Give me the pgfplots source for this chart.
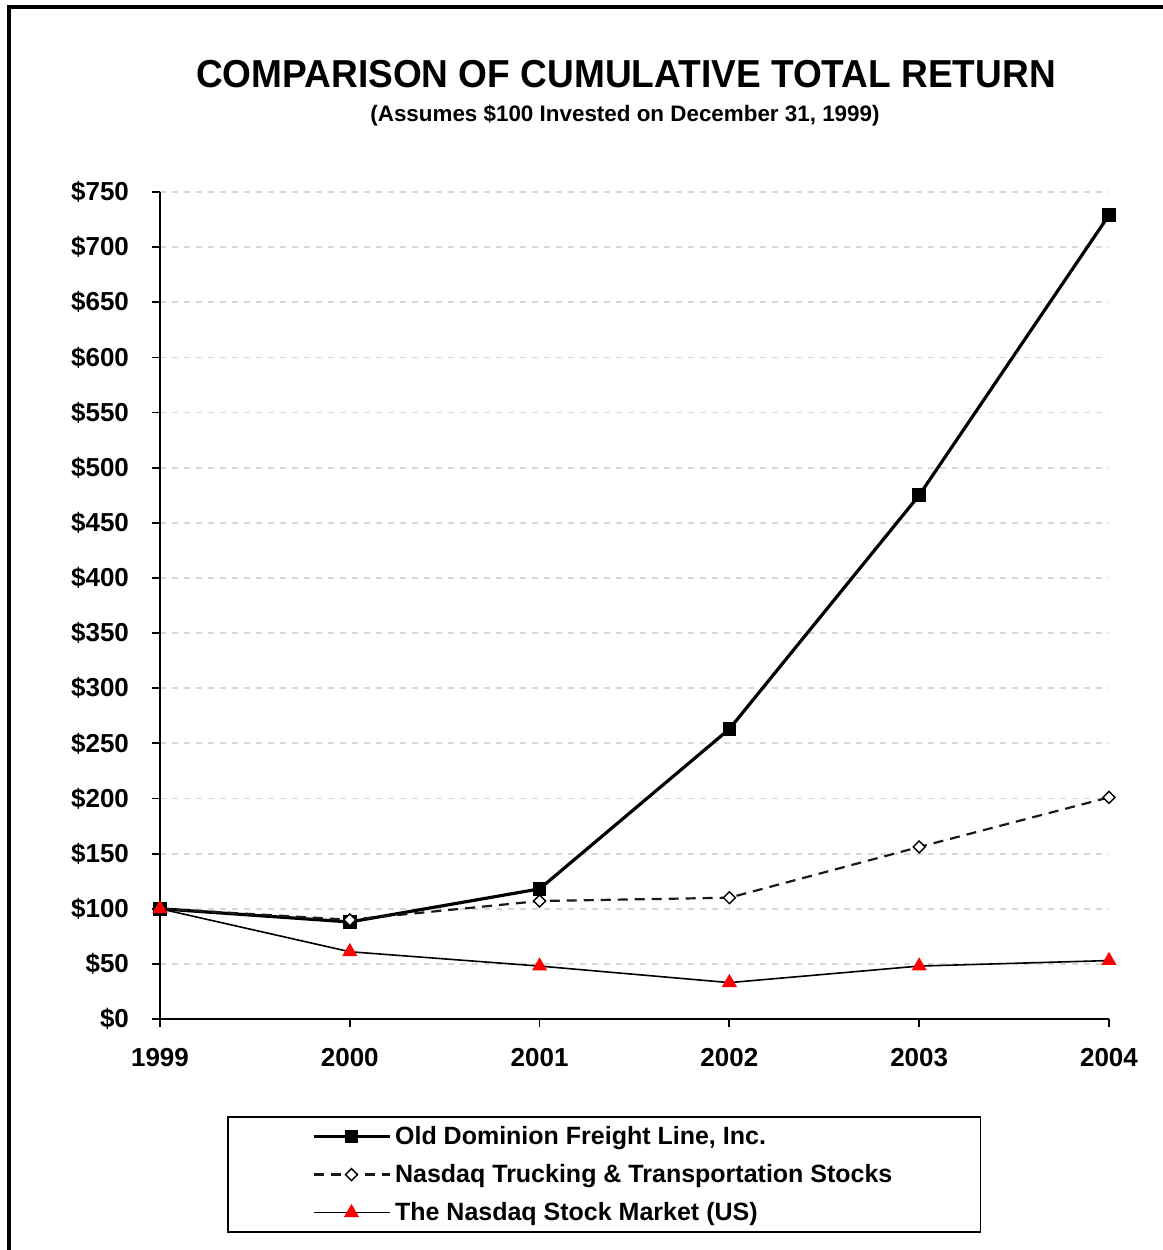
\documentclass[border=0pt]{standalone}
\usepackage{pgfplots}
\pgfplotsset{compat=1.18}
\usepackage{fontspec}
\setmainfont{Liberation Sans}
\newfontfamily\narrowfont[FakeStretch=0.95]{Liberation Sans}
\definecolor{gridgray}{RGB}{215,215,215}
\begin{document}
\begin{tikzpicture}
\path[use as bounding box] (0pt,0pt) rectangle (581.5pt,625pt);
\draw[line width=1.6pt] (4.5pt,0pt) -- (4.5pt,621.5pt) -- (581.5pt,621.5pt);
\node[font=\narrowfont\bfseries\fontsize{19.5}{22}\selectfont] at (313pt,588pt) {COMPARISON OF CUMULATIVE TOTAL RETURN};
\node[font=\bfseries\fontsize{11.2}{13}\selectfont] at (312.5pt,567pt) {(Assumes \$100 Invested on December 31, 1999)};
\begin{axis}[
  at={(80pt,115.5pt)}, anchor=south west,
  scale only axis, width=474.5pt, height=413.5pt,
  xmin=1999, xmax=2004, ymin=0, ymax=750,
  axis x line*=bottom, axis y line*=left,
  axis line style={line width=0.9pt},
  xtick={1999,2000,2001,2002,2003,2004},
  ytick={0,50,...,750},
  tick align=outside, tick style={black, line width=0.9pt},
  major tick length=4pt,
  ymajorgrids, grid style={gridgray, line width=0.9pt, dash pattern=on 3pt off 3pt},
  /pgf/number format/assume math mode=true,
  /pgf/number format/1000 sep={},
  xticklabel style={font=\bfseries\fontsize{13}{15}\selectfont, yshift=-7pt},
  yticklabel style={font=\bfseries\fontsize{13}{15}\selectfont, xshift=-8pt},
  yticklabel={\$\pgfmathprintnumber{\tick}},
  clip=false,
  legend cell align=left,
  legend style={at={(axis description cs:0.0706,-0.1173)}, anchor=north west,
    draw=black, line width=0.9pt, inner xsep=42pt, inner ysep=2.5pt,
    font=\bfseries\fontsize{12.5}{15}\selectfont,
    row sep=4.5pt},
  legend image code/.code={
    \draw[#1] (0pt,0pt) -- (38pt,0pt);
    \draw[#1,solid] plot coordinates {(19pt,0pt)};
  },
]
\addplot[black, line width=1.6pt, mark=square*, mark size=2.6pt, mark options={solid, fill=black}]
  coordinates {(1999,100) (2000,88) (2001,118) (2002,263) (2003,475) (2004,729)};
\addlegendentry{Old Dominion Freight Line, Inc.}
\addplot[black!90, line width=1.1pt, dash pattern=on 5pt off 3.5pt, mark=square*, mark size=2.1pt, mark options={solid, rotate=45, fill=white, draw=black, line width=0.7pt}]
  coordinates {(1999,100) (2000,90) (2001,107) (2002,110) (2003,156) (2004,201)};
\addlegendentry{Nasdaq Trucking \& Transportation Stocks}
\addplot[black, line width=0.8pt, mark=triangle*, mark size=3.6pt, mark options={solid, fill=red, draw=red}]
  coordinates {(1999,100) (2000,61) (2001,48) (2002,33) (2003,48) (2004,53)};
\addlegendentry{The Nasdaq Stock Market (US)}
\end{axis}
\end{tikzpicture}
\end{document}
